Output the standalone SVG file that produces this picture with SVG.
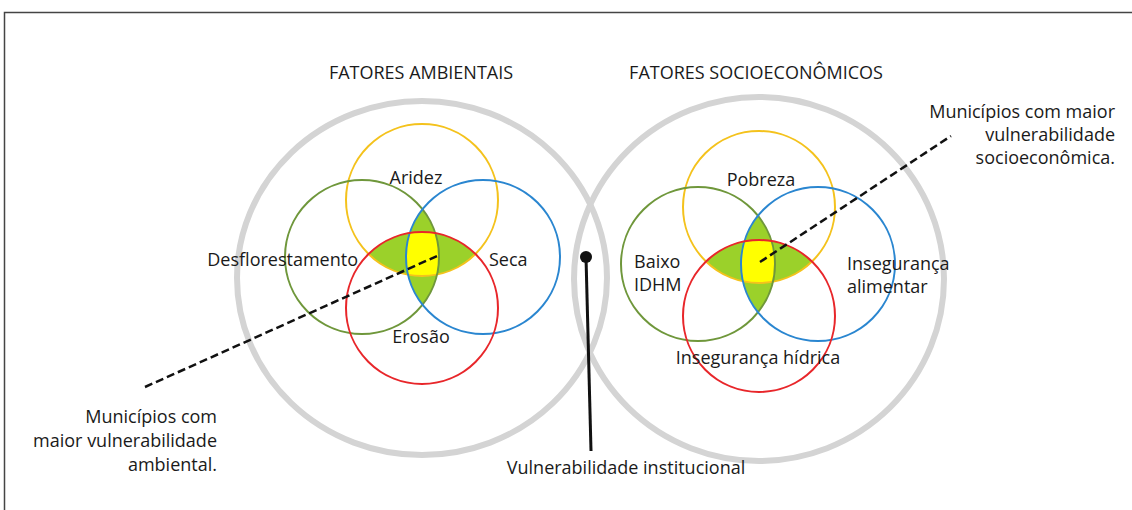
<svg xmlns="http://www.w3.org/2000/svg" width="1132" height="510" viewBox="0 0 1132 510">
<defs>
<style>
text{font-family:"Open Sans","Noto Sans",sans-serif;font-size:18px;fill:#1a1a1a}
.ring{fill:none;stroke:#d4d4d4;stroke-width:6}
.c{fill:none;stroke-width:2}
.y{stroke:#f4c21c}.g{stroke:#6f973b}.b{stroke:#2a86d0}.r{stroke:#e8262a}
.lens{fill:#9bd12a}
.core{fill:#ffff00}
.dash{stroke:#111;stroke-width:2.5;stroke-dasharray:8 4;fill:none}
</style>
<clipPath id="Lgreen"><circle cx="362" cy="257" r="77"/></clipPath>
<clipPath id="Lyellow"><circle cx="422" cy="200" r="76"/></clipPath>
<clipPath id="LredC"><circle cx="422" cy="308" r="76"/></clipPath>
<clipPath id="Rgreen"><circle cx="698" cy="264" r="77"/></clipPath>
<clipPath id="Ryellow"><circle cx="759" cy="207" r="76"/></clipPath>
<clipPath id="RredC"><circle cx="759" cy="316" r="76"/></clipPath>
</defs>
<rect x="4.5" y="12.5" width="1140" height="520" fill="#fff" stroke="#444" stroke-width="1.5"/>

<g id="rings">
<ellipse class="ring" cx="422" cy="278" rx="185" ry="177"/>
<ellipse class="ring" cx="759" cy="279" rx="185" ry="182"/>
</g>

<g id="venn-ambiental">
<g clip-path="url(#Lgreen)"><circle class="lens" cx="483" cy="257" r="77"/></g>
<g clip-path="url(#Lyellow)"><circle class="lens" cx="422" cy="308" r="76"/></g>
<g clip-path="url(#Lgreen)"><g clip-path="url(#Lyellow)"><circle class="core" cx="483" cy="257" r="77" clip-path="url(#LredC)"/></g></g>
<circle class="c y" cx="422" cy="200" r="76"/>
<circle class="c g" cx="362" cy="257" r="77"/>
<circle class="c b" cx="483" cy="257" r="77"/>
<circle class="c r" cx="422" cy="308" r="76"/>
</g>

<g id="venn-socio">
<g clip-path="url(#Rgreen)"><circle class="lens" cx="818" cy="264" r="77"/></g>
<g clip-path="url(#Ryellow)"><circle class="lens" cx="759" cy="316" r="76"/></g>
<g clip-path="url(#Rgreen)"><g clip-path="url(#Ryellow)"><circle class="core" cx="818" cy="264" r="77" clip-path="url(#RredC)"/></g></g>
<circle class="c y" cx="759" cy="207" r="76"/>
<circle class="c g" cx="698" cy="264" r="77"/>
<circle class="c b" cx="818" cy="264" r="77"/>
<circle class="c r" cx="759" cy="316" r="76"/>
</g>

<g id="connectors">
<line class="dash" x1="145" y1="387" x2="437" y2="256"/>
<line class="dash" x1="760" y1="262" x2="951" y2="136"/>
<line x1="586" y1="257" x2="591" y2="451" stroke="#111" stroke-width="3"/>
<circle cx="586" cy="257" r="6" fill="#111"/>
</g>

<g id="labels">
<text x="421" y="79" text-anchor="middle">FATORES AMBIENTAIS</text>
<text x="756" y="79" text-anchor="middle">FATORES SOCIOECONÔMICOS</text>
<text x="416" y="184" text-anchor="middle">Aridez</text>
<text x="358" y="266" text-anchor="end">Desflorestamento</text>
<text x="489" y="266">Seca</text>
<text x="421" y="343" text-anchor="middle">Erosão</text>
<text x="761" y="186" text-anchor="middle">Pobreza</text>
<text x="634" y="268">Baixo</text>
<text x="634" y="291">IDHM</text>
<text x="847" y="270">Insegurança</text>
<text x="847" y="293">alimentar</text>
<text x="758" y="364" text-anchor="middle">Insegurança hídrica</text>
<text x="1115" y="118" text-anchor="end">Municípios com maior</text>
<text x="1115" y="141" text-anchor="end">vulnerabilidade</text>
<text x="1115" y="164" text-anchor="end">socioeconômica.</text>
<text x="217" y="423" text-anchor="end">Municípios com</text>
<text x="217" y="447" text-anchor="end">maior vulnerabilidade</text>
<text x="217" y="471" text-anchor="end">ambiental.</text>
<text x="626" y="474" text-anchor="middle">Vulnerabilidade institucional</text>
</g>
</svg>
